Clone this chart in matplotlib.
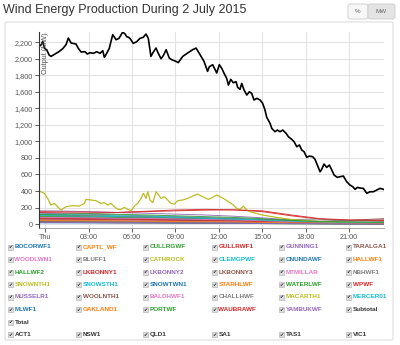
import matplotlib.pyplot as plt
from matplotlib.patches import Rectangle, FancyBboxPatch

plt.rcParams['font.family'] = ['Liberation Sans', 'DejaVu Sans']

W, H = 400, 345

# Total output (MW); hours after midnight
total_hours = [-0.44, -0.30, -0.18, -0.07, 0.10, 0.26, 0.39, 0.67, 0.97, 1.20, 1.43, 1.59, 1.78,
               2.12, 2.28, 2.47, 2.74, 2.90, 3.09, 3.32, 3.55, 3.78, 3.97, 4.08, 4.24, 4.42,
               4.54, 4.66, 4.89, 5.09, 5.35, 5.51, 5.63, 5.76, 5.85, 6.08, 6.32, 6.54, 6.77,
               6.96, 7.12, 7.30, 7.46, 7.65, 7.81, 8.00, 8.16, 8.35, 8.57, 8.74, 9.03, 9.19,
               9.50, 9.84, 10.19, 10.42, 10.63, 10.97, 11.22, 11.34, 11.57, 11.73, 11.85,
               12.03, 12.20, 12.36, 12.54, 12.66, 12.82, 13.00, 13.19, 13.30, 13.46, 13.58,
               13.74, 13.93, 14.11, 14.27, 14.43, 14.62, 14.85, 15.03, 15.19, 15.31, 15.54,
               15.66, 15.88, 16.04, 16.23, 16.42, 16.65, 16.81, 17.04, 17.20, 17.39, 17.57,
               17.73, 17.89, 18.08, 18.26, 18.49, 18.65, 18.81, 19.00, 19.11, 19.27, 19.46,
               19.64, 19.81, 19.97, 20.19, 20.38, 20.61, 20.84, 21.07, 21.26, 21.42, 21.58,
               21.76, 21.99, 22.23, 22.45, 22.68, 22.92, 23.15, 23.38]
total_mw = [2150, 2168, 2212, 2131, 2107, 2047, 2030, 2059, 2091, 2123, 2172, 2252, 2192,
            2180, 2127, 2083, 2087, 2059, 2075, 2067, 2087, 2067, 2099, 2018, 2067, 2127,
            2212, 2293, 2232, 2248, 2325, 2301, 2268, 2261, 2248, 2188, 2208, 2248, 2261,
            2301, 2248, 2030, 2080, 2131, 2067, 2002, 2040, 2111, 2010, 1990, 1970, 1954,
            2030, 2071, 2111, 2131, 2071, 1970, 1849, 1905, 1929, 1873, 1829,
            1929, 1885, 1825, 1764, 1683, 1752, 1711, 1724, 1655, 1631, 1703,
            1623, 1562, 1602, 1582, 1502, 1522, 1502, 1461, 1380, 1292, 1219,
            1158, 1118, 1138, 1118, 1138, 1098, 1057, 1025, 997, 936, 957,
            896, 876, 807, 823, 815, 783, 714, 633, 662, 727, 686,
            714, 654, 593, 565, 573, 581, 512, 472, 452, 420, 444,
            436, 432, 372, 391, 391, 412, 432, 420]

# MACARTH1, the large olive line
macarth_hours = [-0.44, -0.30, -0.07, 0.16, 0.39, 0.62, 0.85, 1.08, 1.43, 1.89, 2.35, 2.70,
                 2.81, 3.16, 3.50, 3.85, 4.08, 4.31, 4.54, 4.77, 5.01, 5.24, 5.47, 5.70,
                 5.93, 6.16, 6.39, 6.62, 6.78, 6.96, 7.08, 7.24, 7.43, 7.66, 7.84, 8.00,
                 8.23, 8.46, 8.69, 8.92, 9.15, 9.50, 9.85, 10.19, 10.54, 10.88, 11.27,
                 11.55, 11.85, 12.31, 12.77, 13.00, 13.23, 13.46, 13.69, 13.92, 14.15,
                 15.0, 16.0, 17.0, 18.0, 19.0, 20.0, 21.0, 22.0, 23.4]
macarth_mw = [403, 391, 372, 311, 230, 250, 210, 170, 210, 222, 218, 250,
              299, 291, 283, 250, 258, 230, 250, 210, 178, 178, 202, 178,
              161, 218, 250, 311, 372, 311, 391, 291, 258, 391, 351, 311,
              331, 291, 250, 242, 283, 291, 311, 339, 363, 331, 299,
              320, 351, 311, 258, 230, 190, 178, 218, 170, 149,
              110, 80, 55, 40, 30, 25, 20, 18, 15]

# the other farms, read at a coarse set of hours
farm_hours = [-0.44, 1, 3, 5, 7, 9, 11, 13, 15, 17, 19, 21, 23.4]
bocorwf1 = [60, 55, 50, 45, 52, 48, 40, 35, 30, 20, 12, 8, 5]
captl_wf = [95, 100, 90, 85, 70, 60, 55, 50, 40, 25, 15, 10, 12]
cullrgwf = [20, 18, 22, 20, 15, 12, 10, 8, 6, 4, 3, 2, 2]
gullrwf1 = [140, 135, 130, 140, 155, 170, 178, 172, 150, 100, 60, 45, 40]
gunning1 = [35, 38, 40, 36, 30, 28, 25, 20, 15, 10, 8, 5, 4]
taralga1 = [80, 85, 75, 70, 65, 60, 55, 50, 40, 30, 35, 45, 65]
woodlwn1 = [30, 32, 35, 30, 28, 25, 22, 18, 14, 10, 6, 4, 3]
bluff1 = [40, 38, 35, 30, 32, 28, 25, 20, 18, 12, 8, 5, 4]
cathrock = [45, 40, 38, 35, 30, 30, 28, 25, 20, 15, 10, 8, 6]
clemgpwf = [40, 42, 45, 40, 35, 30, 25, 22, 18, 12, 8, 6, 5]
cnundawf = [30, 28, 25, 22, 20, 18, 15, 12, 10, 8, 5, 3, 2]
hallwf1 = [70, 72, 68, 65, 60, 55, 50, 45, 35, 25, 18, 12, 10]
hallwf2 = [55, 52, 50, 48, 45, 40, 35, 30, 25, 18, 12, 8, 6]
lkbonny1 = [60, 58, 55, 50, 45, 40, 35, 30, 25, 18, 10, 8, 5]
lkbonny2 = [130, 125, 120, 110, 100, 90, 80, 70, 55, 35, 20, 15, 10]
lkbonny3 = [28, 27, 25, 22, 20, 18, 15, 12, 10, 8, 5, 4, 3]
mtmillar = [50, 48, 45, 42, 40, 35, 30, 28, 22, 15, 10, 8, 6]
nbhwf1 = [100, 95, 90, 85, 80, 70, 65, 60, 50, 55, 60, 40, 30]
snownth1 = [110, 105, 100, 95, 90, 80, 70, 60, 45, 30, 20, 15, 10]
snowsth1 = [120, 115, 110, 100, 95, 85, 75, 65, 50, 35, 22, 15, 10]
snowtwn1 = [75, 72, 70, 65, 60, 55, 50, 45, 38, 25, 15, 10, 8]
starhlwf = [20, 22, 18, 15, 14, 12, 10, 8, 6, 5, 4, 3, 2]
waterlwf = [90, 88, 85, 80, 75, 70, 65, 55, 45, 30, 20, 12, 8]
wpwf = [70, 68, 65, 60, 55, 50, 45, 40, 30, 20, 12, 8, 6]
musselr1 = [160, 158, 150, 140, 130, 120, 110, 95, 75, 50, 30, 20, 15]
woolnth1 = [110, 105, 100, 90, 85, 75, 70, 60, 50, 40, 30, 35, 50]
baldhwf1 = [80, 78, 75, 70, 68, 62, 55, 50, 40, 30, 25, 20, 15]
challhwf = [40, 38, 35, 32, 30, 28, 25, 22, 18, 14, 10, 8, 6]
mercer01 = [105, 100, 95, 90, 85, 80, 70, 60, 50, 35, 25, 20, 18]
mlwf1 = [15, 14, 13, 12, 12, 10, 9, 8, 6, 4, 3, 2, 2]
oakland1 = [45, 42, 40, 38, 35, 30, 28, 25, 20, 15, 10, 8, 6]
portwf = [115, 120, 125, 118, 110, 100, 90, 80, 65, 45, 30, 25, 20]
waubrawf = [150, 148, 145, 140, 150, 160, 168, 172, 160, 110, 65, 50, 45]
yambukwf = [22, 20, 18, 16, 15, 14, 12, 10, 8, 6, 4, 3, 2]

farm_names = ['BOCORWF1', 'CAPTL_WF', 'CULLRGWF', 'GULLRWF1', 'GUNNING1', 'TARALGA1',
              'WOODLWN1', 'BLUFF1', 'CATHROCK', 'CLEMGPWF', 'CNUNDAWF', 'HALLWF1',
              'HALLWF2', 'LKBONNY1', 'LKBONNY2', 'LKBONNY3', 'MTMILLAR', 'NBHWF1',
              'SNOWNTH1', 'SNOWSTH1', 'SNOWTWN1', 'STARHLWF', 'WATERLWF', 'WPWF',
              'MUSSELR1', 'WOOLNTH1', 'BALDHWF1', 'CHALLHWF', 'MACARTH1', 'MERCER01',
              'MLWF1', 'OAKLAND1', 'PORTWF', 'WAUBRAWF', 'YAMBUKWF']
farm_values = [bocorwf1, captl_wf, cullrgwf, gullrwf1, gunning1, taralga1,
               woodlwn1, bluff1, cathrock, clemgpwf, cnundawf, hallwf1,
               hallwf2, lkbonny1, lkbonny2, lkbonny3, mtmillar, nbhwf1,
               snownth1, snowsth1, snowtwn1, starhlwf, waterlwf, wpwf,
               musselr1, woolnth1, baldhwf1, challhwf, None, mercer01,
               mlwf1, oakland1, portwf, waubrawf, yambukwf]
extra_names = ['Subtotal', 'Total', 'ACT1', 'NSW1', 'QLD1', 'SA1', 'TAS1', 'VIC1']

x_ticks = [0, 3, 6, 9, 12, 15, 18, 21]
x_labels = ['Thu', '03:00', '06:00', '09:00', '12:00', '15:00', '18:00', '21:00']
y_ticks = list(range(0, 2201, 200))

palette = ['#1f77b4', '#ff7f0e', '#2ca02c', '#d62728', '#9467bd',
           '#8c564b', '#e377c2', '#7f7f7f', '#bcbd22', '#17becf']


def fx(x):
    return x / W


def fy(y):
    return 1 - y / H


fig = plt.figure(figsize=(4, 3.45), dpi=100)

# panel frame (behind the axes)
fig.patches.append(FancyBboxPatch((fx(5), fy(340)), fx(388), 318 / H,
                                  boxstyle='round,pad=0,rounding_size=0.005',
                                  transform=fig.transFigure, fc='white', ec='#dddddd',
                                  lw=0.8, zorder=-5))

fig.text(fx(3), fy(10), 'Wind Energy Production During 2 July 2015',
         fontsize=9, color='#333333', va='center', ha='left')

# % / MW toggle
fig.patches.append(FancyBboxPatch((fx(348), fy(19)), fx(20), 15 / H,
                                  boxstyle='round,pad=0,rounding_size=0.006',
                                  transform=fig.transFigure, fc='#f7f7f7', ec='#cccccc', lw=0.6))
fig.patches.append(FancyBboxPatch((fx(368), fy(19)), fx(27), 15 / H,
                                  boxstyle='round,pad=0,rounding_size=0.006',
                                  transform=fig.transFigure, fc='#e4e4e4', ec='#cccccc', lw=0.6))
fig.text(fx(358), fy(11.5), '%', fontsize=4.5, color='#666666', ha='center', va='center')
fig.text(fx(381.5), fy(11.5), 'MW', fontsize=4.5, color='#666666', ha='center', va='center')

ax = fig.add_axes([fx(39), fy(228), fx(345), 196.3 / H])
ax.patch.set_alpha(0)

for i, name in enumerate(farm_names):
    if name == 'MACARTH1':
        ax.plot(macarth_hours, macarth_mw, color=palette[i % 10], lw=0.9)
    else:
        ax.plot(farm_hours, farm_values[i], color=palette[i % 10], lw=0.7, alpha=0.9)

ax.plot(total_hours, total_mw, color='black', lw=1.2)

ax.set_xlim(-0.44, 23.42)
ax.set_ylim(-48, 2329)
ax.set_xticks(x_ticks)
ax.set_xticklabels(x_labels)
ax.set_yticks(y_ticks)
ax.set_yticklabels([f'{v:,}' for v in y_ticks])
ax.tick_params(length=3, width=0.6, color='#444444', labelcolor='#555555',
               labelsize=5.2, pad=1.5)
ax.grid(True, color='#e2e2e2', lw=0.8)
ax.set_axisbelow(True)
for side in ['top', 'right']:
    ax.spines[side].set_visible(False)
ax.spines['left'].set_color('#333333')
ax.spines['left'].set_linewidth(0.8)
ax.spines['bottom'].set_color('#999999')
ax.spines['bottom'].set_linewidth(0.6)
ax.text(0.008, 0.995, 'Output (MW)', rotation=90, ha='left', va='top',
        fontsize=5.2, color='#555555', transform=ax.transAxes)

# legend with check boxes
col_x = [7.5, 76, 143, 211.5, 279, 346]
row_y = [247, 259.5, 272, 284.5, 297, 309.5, 322, 334.5]


def legend_item(x, y, label, color):
    fig.patches.append(Rectangle((fx(x), fy(y + 2.5)), fx(5), 5 / H, transform=fig.transFigure,
                                 fc='#dddddd', ec='#aaaaaa', lw=0.4))
    fig.text(fx(x + 2.6), fy(y - 0.2), '\u2714', fontsize=3.5, color='#222222',
             ha='center', va='center', family='DejaVu Sans')
    fig.text(fx(x + 7), fy(y), label, fontsize=4.6, color=color, fontweight='bold',
             ha='left', va='center')


for i, name in enumerate(farm_names):
    legend_item(col_x[i % 6], row_y[i // 6], name, palette[i % 10])
legend_item(col_x[5], row_y[5], 'Subtotal', '#333333')
legend_item(col_x[0], row_y[6], 'Total', '#333333')
for j, name in enumerate(extra_names[2:]):
    legend_item(col_x[j], row_y[7], name, '#333333')

fig.savefig('out.png', dpi=100)
